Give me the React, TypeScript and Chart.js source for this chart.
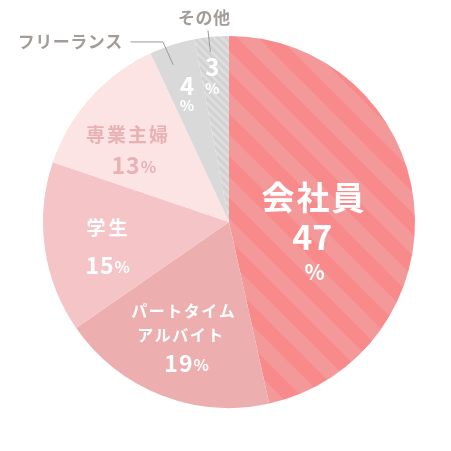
import { useEffect, useRef } from 'react';
import Chart from 'chart.js/auto';

const categories = ['会社員', 'パートタイム・アルバイト', '学生', '専業主婦', 'フリーランス', 'その他'];
const shares = [47, 19, 15, 13, 4, 3];
const sliceColors = ['#f98a8b', '#ecaeae', '#f5c4c6', '#fce4e5', '#d9d9d9', '#d3d3d3'];

const FONT = '"Noto Sans CJK JP", "Noto Sans", sans-serif';

// label lines: text runs [text, size], centre dx/dy in units of the pie radius, letter spacing
type Line = { runs: [string, number][]; dx: number; dy: number; color: string; sp: number };

const white = '#ffffff';
const pinkText = '#e8b1b3';
const greyText = '#a39d9a';

const makeStripes = (base: string, stripe: string, size: number, width: number) => {
    const c = document.createElement('canvas');
    c.width = size;
    c.height = size;
    const g = c.getContext('2d')!;
    g.fillStyle = base;
    g.fillRect(0, 0, size, size);
    g.strokeStyle = stripe;
    g.lineWidth = width;
    for (let k = -1; k <= 1; k++) {
        g.beginPath();
        g.moveTo(k * size - size, -size);
        g.lineTo(k * size + 2 * size, 2 * size);
        g.stroke();
    }
    return g.createPattern(c, 'repeat')!;
};

const labelLines = (): Line[] => [
    { runs: [[categories[0], 33]], dx: 0.452, dy: -0.13, color: white, sp: 2 },
    { runs: [['47', 34]], dx: 0.448, dy: 0.08, color: white, sp: 0 },
    { runs: [['%', 21]], dx: 0.46, dy: 0.27, color: white, sp: 0 },
    { runs: [['パートタイム', 16]], dx: -0.247, dy: 0.478, color: white, sp: 1.5 },
    { runs: [['アルバイト', 16]], dx: -0.262, dy: 0.608, color: white, sp: 1.5 },
    { runs: [[String(shares[1]), 23], ['%', 16]], dx: -0.228, dy: 0.757, color: white, sp: 1 },
    { runs: [[categories[2], 19]], dx: -0.656, dy: 0.032, color: white, sp: 3 },
    { runs: [[String(shares[2]), 23], ['%', 16]], dx: -0.652, dy: 0.231, color: white, sp: 1 },
    { runs: [[categories[3], 19]], dx: -0.548, dy: -0.468, color: pinkText, sp: 2 },
    { runs: [[String(shares[3]), 23], ['%', 16]], dx: -0.512, dy: -0.306, color: pinkText, sp: 1 },
    { runs: [[String(shares[4]), 24]], dx: -0.226, dy: -0.73, color: white, sp: 0 },
    { runs: [['%', 15]], dx: -0.226, dy: -0.625, color: white, sp: 0 },
    { runs: [[String(shares[5]), 24]], dx: -0.09, dy: -0.835, color: white, sp: 0 },
    { runs: [['%', 15]], dx: -0.09, dy: -0.72, color: white, sp: 0 },
    { runs: [[categories[4], 17]], dx: -0.855, dy: -0.968, color: greyText, sp: 0.5 },
    { runs: [[categories[5], 17]], dx: -0.134, dy: -1.097, color: greyText, sp: 0.5 },
];

// leader lines, points in units of radius
const leaders: [number, number][][] = [
    [[-0.53, -0.968], [-0.355, -0.968], [-0.3, -0.845]],
    [[-0.113, -1.03], [-0.1, -0.915]],
];

const labelPlugin = {
    id: 'labelPlugin',
    afterDatasetsDraw: (chart: any) => {
        const arc = chart.getDatasetMeta(0).data[0];
        if (!arc) return;
        const { x: cx, y: cy, outerRadius: r } = arc;
        const ctx = chart.ctx;
        ctx.save();
        ctx.textBaseline = 'middle';
        ctx.textAlign = 'left';
        labelLines().forEach((line) => {
            ctx.letterSpacing = `${line.sp}px`;
            let total = 0;
            line.runs.forEach(([t, s]) => {
                ctx.font = `bold ${s}px ${FONT}`;
                total += ctx.measureText(t).width;
            });
            total -= line.sp;
            let x = cx + line.dx * r - total / 2;
            const y = cy + line.dy * r;
            const big = Math.max(...line.runs.map((q) => q[1]));
            ctx.fillStyle = line.color;
            line.runs.forEach(([t, s]) => {
                ctx.font = `bold ${s}px ${FONT}`;
                ctx.fillText(t, x, y + (big - s) * 0.3);
                x += ctx.measureText(t).width;
            });
        });
        ctx.letterSpacing = '0px';
        ctx.strokeStyle = '#9a9a9a';
        ctx.lineWidth = 1;
        leaders.forEach((pts) => {
            ctx.beginPath();
            pts.forEach(([px, py], i) => {
                const X = cx + px * r;
                const Y = cy + py * r;
                if (i === 0) ctx.moveTo(X, Y);
                else ctx.lineTo(X, Y);
            });
            ctx.stroke();
        });
        ctx.restore();
    }
};

const PieChart: React.FC = () => {
    const chartRef = useRef<HTMLCanvasElement>(null);

    useEffect(() => {
        if (!chartRef.current) return;
        const ctx = chartRef.current.getContext('2d');
        if (!ctx) return;

        const colors: any[] = [...sliceColors];
        colors[0] = makeStripes('#f98a8b', '#f49999', 42, 15);
        colors[5] = makeStripes('#d2d2d2', '#dedede', 8, 2.6);

        const chart = new Chart(ctx, {
            type: 'pie',
            data: {
                labels: categories,
                datasets: [
                    {
                        data: shares,
                        backgroundColor: colors,
                        borderWidth: 0,
                    }
                ]
            },
            options: {
                animation: false,
                responsive: false,
                layout: {
                    padding: { left: 43, right: 36, top: 36, bottom: 43 }
                },
                plugins: {
                    legend: { display: false },
                    tooltip: { enabled: false }
                }
            },
            plugins: [labelPlugin]
        });

        return () => {
            chart.destroy();
        };
    }, []);

    return (
        <div style={{ position: 'absolute', left: 0, top: 0, width: 451, height: 451, background: '#fff' }}>
            <canvas ref={chartRef} width={451} height={451} style={{ width: 451, height: 451 }}></canvas>
        </div>
    );
};

export default PieChart;
